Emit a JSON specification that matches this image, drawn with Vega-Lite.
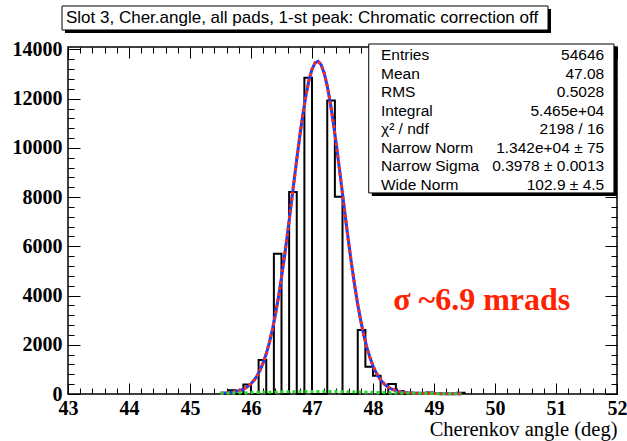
{
  "$schema": "https://vega.github.io/schema/vega-lite/v6.json",
  "width": 549,
  "height": 347,
  "autosize": {"type": "none"},
  "padding": {"left": 68, "top": 47, "right": 10, "bottom": 47},
  "background": "white",
  "config": {"view": {"stroke": "black", "strokeWidth": 1.5}, "font": "Liberation Sans"},
  "datasets": {
    "hist": [
      {"x": 45.5, "n": 0}, {"x": 45.625, "n": 150}, {"x": 45.75, "n": 0}, {"x": 45.875, "n": 390},
      {"x": 46.0, "n": 0}, {"x": 46.125, "n": 1380}, {"x": 46.25, "n": 0}, {"x": 46.375, "n": 5700},
      {"x": 46.5, "n": 0}, {"x": 46.625, "n": 8210}, {"x": 46.75, "n": 0}, {"x": 46.875, "n": 12850},
      {"x": 47.0, "n": 0}, {"x": 47.125, "n": 0}, {"x": 47.25, "n": 11930}, {"x": 47.375, "n": 8010},
      {"x": 47.5, "n": 0}, {"x": 47.625, "n": 0}, {"x": 47.75, "n": 2600}, {"x": 47.875, "n": 1110},
      {"x": 48.0, "n": 745}, {"x": 48.125, "n": 0}, {"x": 48.25, "n": 405}, {"x": 48.375, "n": 120},
      {"x": 48.5, "n": 0}, {"x": 48.625, "n": 0}, {"x": 48.75, "n": 0}, {"x": 48.875, "n": 60},
      {"x": 49.0, "n": 0}, {"x": 49.125, "n": 0}, {"x": 49.25, "n": 0}, {"x": 49.375, "n": 50},
      {"x": 49.5, "n": 0}
    ],
    "fit": [
      {"x": 45.5, "f": 35.1}, {"x": 45.6, "f": 49.4}, {"x": 45.7, "f": 76.3}, {"x": 45.8, "f": 128.8},
      {"x": 45.85, "f": 171.4}, {"x": 45.9, "f": 229.8}, {"x": 45.95, "f": 309.2}, {"x": 46.0, "f": 415.7},
      {"x": 46.05, "f": 556.5}, {"x": 46.1, "f": 739.7}, {"x": 46.15, "f": 974.0}, {"x": 46.2, "f": 1269.2},
      {"x": 46.25, "f": 1634.1}, {"x": 46.3, "f": 2077.7}, {"x": 46.35, "f": 2606.3}, {"x": 46.4, "f": 3225.1},
      {"x": 46.45, "f": 3934.2}, {"x": 46.5, "f": 4730.8}, {"x": 46.55, "f": 5606.0}, {"x": 46.6, "f": 6546.6},
      {"x": 46.65, "f": 7531.0}, {"x": 46.7, "f": 8535.9}, {"x": 46.75, "f": 9531.5}, {"x": 46.8, "f": 10483.7},
      {"x": 46.85, "f": 11359.1}, {"x": 46.9, "f": 12122.9}, {"x": 46.95, "f": 12743.7}, {"x": 47.0, "f": 13195.3},
      {"x": 47.05, "f": 13457.6}, {"x": 47.1, "f": 13518.9}, {"x": 47.15, "f": 13376.3}, {"x": 47.2, "f": 13036.4},
      {"x": 47.25, "f": 12514.3}, {"x": 47.3, "f": 11832.8}, {"x": 47.35, "f": 11020.6}, {"x": 47.4, "f": 10110.6},
      {"x": 47.45, "f": 9137.0}, {"x": 47.5, "f": 8134.0}, {"x": 47.55, "f": 7133.3}, {"x": 47.6, "f": 6163.6},
      {"x": 47.65, "f": 5247.2}, {"x": 47.7, "f": 4401.8}, {"x": 47.75, "f": 3639.7}, {"x": 47.8, "f": 2966.7},
      {"x": 47.85, "f": 2384.2}, {"x": 47.9, "f": 1890.4}, {"x": 47.95, "f": 1479.0}, {"x": 48.0, "f": 1143.1},
      {"x": 48.05, "f": 873.4}, {"x": 48.1, "f": 660.6}, {"x": 48.15, "f": 495.5}, {"x": 48.2, "f": 369.4},
      {"x": 48.25, "f": 274.7}, {"x": 48.3, "f": 204.2}, {"x": 48.4, "f": 115.5}, {"x": 48.5, "f": 69.4},
      {"x": 48.6, "f": 45.8}, {"x": 48.7, "f": 33.2}, {"x": 48.8, "f": 25.7}, {"x": 49.0, "f": 16.8},
      {"x": 49.2, "f": 11.1}, {"x": 49.45, "f": 6.4}
    ],
    "wide": [
      {"x": 45.5, "w": 29.1}, {"x": 45.8, "w": 44.8}, {"x": 46.1, "w": 63.1}, {"x": 46.4, "w": 81.2},
      {"x": 46.7, "w": 95.5}, {"x": 47.0, "w": 102.6}, {"x": 47.1, "w": 103.0}, {"x": 47.3, "w": 100.8},
      {"x": 47.6, "w": 90.4}, {"x": 47.9, "w": 74.2}, {"x": 48.2, "w": 55.6}, {"x": 48.5, "w": 38.1},
      {"x": 48.8, "w": 23.9}, {"x": 49.1, "w": 13.7}, {"x": 49.45, "w": 6.4}
    ],
    "stats": [
      {"row": 0, "label": "Entries", "value": "54646"},
      {"row": 1, "label": "Mean", "value": "47.08"},
      {"row": 2, "label": "RMS", "value": "0.5028"},
      {"row": 3, "label": "Integral", "value": "5.465e+04"},
      {"row": 4, "label": "χ² / ndf", "value": "2198 / 16"},
      {"row": 5, "label": "Narrow Norm", "value": "1.342e+04 ± 75"},
      {"row": 6, "label": "Narrow Sigma", "value": "0.3978 ± 0.0013"},
      {"row": 7, "label": "Wide Norm", "value": "102.9 ± 4.5"}
    ],
    "title": [{"text": "Slot 3, Cher.angle, all pads, 1-st peak: Chromatic correction off"}],
    "note": [{"text": "σ ~6.9 mrads"}],
    "one": [{}]
  },
  "layer": [
    {
      "data": {"name": "hist"},
      "mark": {"type": "line", "interpolate": "step-after", "color": "black", "strokeWidth": 2},
      "encoding": {
        "x": {"field": "x", "type": "quantitative", "scale": {"domain": [43, 52], "nice": false, "zero": false},
          "axis": {"orient": "bottom", "values": [43, 44, 45, 46, 47, 48, 49, 50, 51, 52], "ticks": false, "domain": false, "grid": false,
            "labelFont": "Liberation Serif", "labelFontWeight": "bold", "labelFontSize": 20, "labelColor": "black", "labelPadding": 4,
            "labelFlush": false, "labelOverlap": false,
            "title": "Cherenkov angle (deg)", "titleFont": "Liberation Serif", "titleFontWeight": "normal", "titleFontSize": 20.5,
            "titleColor": "black", "titleAnchor": "end", "titlePadding": 1}},
        "y": {"field": "n", "type": "quantitative", "scale": {"domain": [0, 14100], "nice": false, "zero": true},
          "axis": {"orient": "left", "values": [0, 2000, 4000, 6000, 8000, 10000, 12000, 14000], "format": "d", "ticks": false, "domain": false, "grid": false,
            "labelFont": "Liberation Serif", "labelFontWeight": "bold", "labelFontSize": 20, "labelColor": "black", "labelPadding": 6, "title": null}}
      }
    },
    {
      "data": {"name": "fit"},
      "mark": {"type": "line", "color": "#1a3cff", "strokeWidth": 3},
      "encoding": {
        "x": {"field": "x", "type": "quantitative",
          "axis": {"orient": "bottom", "values": [43, 44, 45, 46, 47, 48, 49, 50, 51, 52], "labels": false, "domain": false, "grid": false,
            "ticks": true, "tickSize": -11, "tickColor": "black", "tickWidth": 1, "title": null}},
        "y": {"field": "f", "type": "quantitative",
          "axis": {"orient": "left", "values": [0, 2000, 4000, 6000, 8000, 10000, 12000, 14000], "labels": false, "domain": false, "grid": false,
            "ticks": true, "tickSize": -12, "tickColor": "black", "tickWidth": 1, "title": null}}
      }
    },
    {
      "data": {"name": "fit"},
      "mark": {"type": "line", "color": "#ff2a1a", "strokeWidth": 3, "strokeDash": [3, 3]},
      "encoding": {
        "x": {"field": "x", "type": "quantitative",
          "axis": {"orient": "bottom", "values": [43.2, 43.4, 43.6, 43.8, 44.2, 44.4, 44.6, 44.8, 45.2, 45.4, 45.6, 45.8, 46.2, 46.4, 46.6, 46.8, 47.2, 47.4, 47.6, 47.8, 48.2, 48.4, 48.6, 48.8, 49.2, 49.4, 49.6, 49.8, 50.2, 50.4, 50.6, 50.8, 51.2, 51.4, 51.6, 51.8],
            "labels": false, "domain": false, "grid": false, "ticks": true, "tickSize": -6, "tickColor": "black", "tickWidth": 1, "title": null}},
        "y": {"field": "f", "type": "quantitative",
          "axis": {"orient": "left", "values": [400, 800, 1200, 1600, 2400, 2800, 3200, 3600, 4400, 4800, 5200, 5600, 6400, 6800, 7200, 7600, 8400, 8800, 9200, 9600, 10400, 10800, 11200, 11600, 12400, 12800, 13200, 13600],
            "labels": false, "domain": false, "grid": false, "ticks": true, "tickSize": -6, "tickColor": "black", "tickWidth": 1, "title": null}}
      }
    },
    {
      "data": {"name": "wide"},
      "mark": {"type": "line", "color": "#22dd22", "strokeWidth": 3, "strokeDash": [3, 3]},
      "encoding": {
        "x": {"field": "x", "type": "quantitative",
          "axis": {"orient": "top", "values": [43, 44, 45, 46, 47, 48, 49, 50, 51, 52], "labels": false, "domain": false, "grid": false,
            "ticks": true, "tickSize": -11, "tickColor": "black", "tickWidth": 1, "title": null}},
        "y": {"field": "w", "type": "quantitative",
          "axis": {"orient": "right", "values": [0, 2000, 4000, 6000, 8000, 10000, 12000, 14000], "labels": false, "domain": false, "grid": false,
            "ticks": true, "tickSize": -12, "tickColor": "black", "tickWidth": 1, "title": null}}
      }
    },
    {
      "data": {"name": "note"},
      "mark": {"type": "text", "align": "left", "baseline": "middle", "font": "Liberation Serif", "fontWeight": "bold", "fontSize": 32, "color": "#ff2200"},
      "encoding": {
        "x": {"datum": 48.33, "type": "quantitative",
          "axis": {"orient": "top", "values": [43.2, 43.4, 43.6, 43.8, 44.2, 44.4, 44.6, 44.8, 45.2, 45.4, 45.6, 45.8, 46.2, 46.4, 46.6, 46.8, 47.2, 47.4, 47.6, 47.8, 48.2, 48.4, 48.6, 48.8, 49.2, 49.4, 49.6, 49.8, 50.2, 50.4, 50.6, 50.8, 51.2, 51.4, 51.6, 51.8],
            "labels": false, "domain": false, "grid": false, "ticks": true, "tickSize": -6, "tickColor": "black", "tickWidth": 1, "title": null}},
        "y": {"datum": 3820, "type": "quantitative",
          "axis": {"orient": "right", "values": [400, 800, 1200, 1600, 2400, 2800, 3200, 3600, 4400, 4800, 5200, 5600, 6400, 6800, 7200, 7600, 8400, 8800, 9200, 9600, 10400, 10800, 11200, 11600, 12400, 12800, 13200, 13600],
            "labels": false, "domain": false, "grid": false, "ticks": true, "tickSize": -6, "tickColor": "black", "tickWidth": 1, "title": null}},
        "text": {"field": "text"}
      }
    },
    {
      "data": {"name": "one"},
      "mark": {"type": "rect", "fill": "black"},
      "encoding": {
        "x": {"datum": 47.98, "type": "quantitative", "axis": null}, "x2": {"datum": 52.0},
        "y": {"datum": 14100, "type": "quantitative", "axis": null}, "y2": {"datum": 8048}
      }
    },
    {
      "data": {"name": "one"},
      "mark": {"type": "rect", "fill": "white", "stroke": "black", "strokeWidth": 1},
      "encoding": {
        "x": {"datum": 47.93, "type": "quantitative", "axis": null}, "x2": {"datum": 51.95},
        "y": {"datum": 14222, "type": "quantitative", "axis": null}, "y2": {"datum": 8170}
      }
    },
    {
      "data": {"name": "stats"},
      "mark": {"type": "text", "align": "left", "baseline": "middle", "font": "Liberation Sans", "fontSize": 15.5, "color": "black"},
      "encoding": {
        "x": {"datum": 48.131, "type": "quantitative", "axis": null},
        "y": {"datum": 13775, "type": "quantitative", "axis": null},
        "yOffset": {"field": "row", "type": "quantitative", "scale": {"domain": [0, 7], "range": [0, 130]}},
        "text": {"field": "label"}
      }
    },
    {
      "data": {"name": "stats"},
      "mark": {"type": "text", "align": "right", "baseline": "middle", "font": "Liberation Sans", "fontSize": 15.5, "color": "black"},
      "encoding": {
        "x": {"datum": 51.79, "type": "quantitative", "axis": null},
        "y": {"datum": 13775, "type": "quantitative", "axis": null},
        "yOffset": {"field": "row", "type": "quantitative", "scale": {"domain": [0, 7], "range": [0, 130]}},
        "text": {"field": "value"}
      }
    },
    {
      "data": {"name": "one"},
      "mark": {"type": "rect", "fill": "black"},
      "encoding": {
        "x": {"datum": 42.951, "type": "quantitative", "axis": null}, "x2": {"datum": 50.918},
        "y": {"datum": 15644, "type": "quantitative", "axis": null}, "y2": {"datum": 14669}
      }
    },
    {
      "data": {"name": "one"},
      "mark": {"type": "rect", "fill": "white", "stroke": "black", "strokeWidth": 1},
      "encoding": {
        "x": {"datum": 42.902, "type": "quantitative", "axis": null}, "x2": {"datum": 50.869},
        "y": {"datum": 15766, "type": "quantitative", "axis": null}, "y2": {"datum": 14791}
      }
    },
    {
      "data": {"name": "title"},
      "mark": {"type": "text", "align": "left", "baseline": "middle", "font": "Liberation Sans", "fontSize": 17, "color": "black"},
      "encoding": {
        "x": {"datum": 42.967, "type": "quantitative", "axis": null},
        "y": {"datum": 15266, "type": "quantitative", "axis": null},
        "text": {"field": "text"}
      }
    }
  ],
  "resolve": {"axis": {"x": "independent", "y": "independent"}}
}
